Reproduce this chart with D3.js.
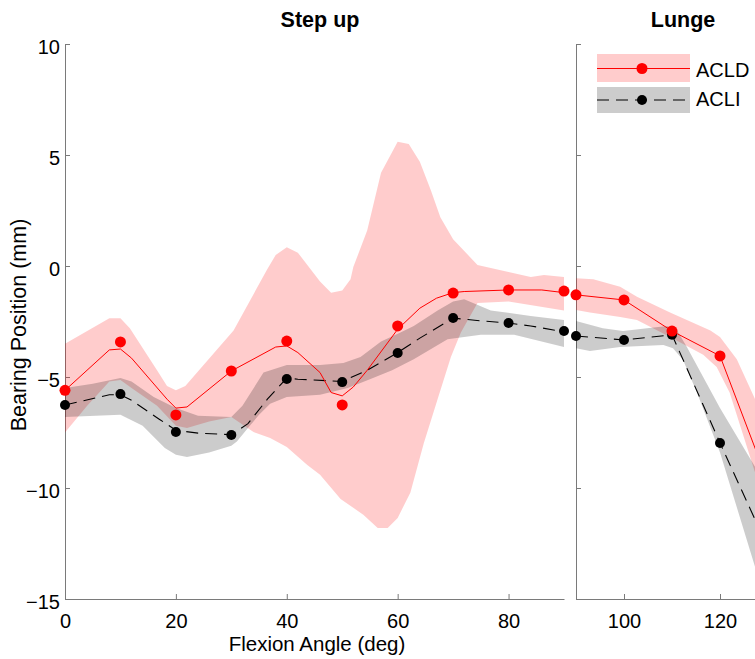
<!DOCTYPE html>
<html>
<head>
<meta charset="utf-8">
<script src="https://cdn.jsdelivr.net/npm/d3@7"></script>
<style>
  html, body { margin: 0; padding: 0; background: #fff; }
  svg { display: block; font-family: "Liberation Sans", Arial, Helvetica, sans-serif; }
</style>
</head>
<body>
<svg id="chart" width="755" height="659"></svg>
<script>
// ---------------- DATA ----------------
const panelTitles = ["Step up", "Lunge"];
const seriesNames = ["ACLD", "ACLI"];
const xLabel = "Flexion Angle (deg)";
const yLabel = "Bearing Position (mm)";
const yTicks = [-15, -10, -5, 0, 5, 10];
const stepXTicks = [0, 20, 40, 60, 80];
const lungeXTicks = [100, 120];

// Step up: measured points
const stepX = [0, 10, 20, 30, 40, 50, 60, 70, 80, 90];
const stepACLD = [-5.6, -3.42, -6.71, -4.73, -3.38, -6.26, -2.70, -1.22, -1.08, -1.13];
const stepACLI = [-6.26, -5.77, -7.48, -7.61, -5.09, -5.23, -3.92, -2.34, -2.57, -2.93];

// Step up: mean curves [angle, mm]
const stepACLDLine = [[0,-5.6],[8,-3.78],[10,-3.74],[12,-4.15],[18.4,-6.0],[20,-6.4],[22,-6.35],[30,-4.73],[38,-3.65],[40,-3.6],[42,-3.9],[46,-4.8],[48,-5.7],[50,-5.85],[52,-5.45],[54.5,-4.7],[60,-2.85],[64,-1.9],[67,-1.45],[70,-1.2],[72,-1.15],[80,-1.08],[86,-1.08],[90,-1.2]];
const stepACLILine = [[0,-6.26],[8,-5.8],[10,-5.8],[12,-6.05],[17,-6.9],[20,-7.4],[24,-7.53],[30,-7.6],[33,-7.1],[36.5,-6.0],[40,-5.05],[42,-5.1],[50,-5.2],[54.5,-4.7],[60,-3.9],[64,-3.25],[70,-2.35],[75,-2.47],[80,-2.57],[84,-2.7],[90,-2.97]];

// Step up: bands (upper / lower edges)
const stepACLDUpper = [[0,-3.5],[8,-2.35],[10,-2.35],[11.7,-2.8],[16.6,-4.7],[18.4,-5.4],[20,-5.6],[21.7,-5.4],[30.4,-2.9],[36.4,-0.18],[38,0.5],[40,0.85],[42,0.6],[46,-0.7],[48,-1.2],[50,-1.1],[51.5,-0.6],[52,-0.05],[54.5,1.6],[57,4.2],[60,5.6],[62,5.5],[64,4.7],[66,3.4],[67.7,2.2],[70,1.2],[74.4,0.05],[80,-0.27],[84,-0.5],[86.4,-0.4],[90,-0.5]];
const stepACLDLower = [[0,-7.5],[4,-6.3],[8,-5.2],[10,-5.13],[12,-5.5],[16.6,-6.3],[20,-7.2],[22,-7.3],[26,-7.0],[30,-6.8],[34,-7.48],[37,-7.75],[40,-8.15],[43.7,-8.96],[46,-9.4],[49.7,-10.5],[53.8,-11.2],[56.4,-11.8],[58.2,-11.8],[60,-11.35],[62.3,-10.2],[64.7,-8.0],[67.2,-6.0],[69.6,-4.1],[71.4,-3.0],[73.2,-2.2],[74.4,-1.67],[80,-1.6],[90,-2.0]];
const stepACLIUpper = [[0,-5.5],[5,-5.3],[10,-5.05],[12,-5.2],[16,-5.9],[20,-6.4],[24,-6.75],[30,-6.8],[32,-6.3],[35.8,-4.8],[40,-4.46],[46,-4.46],[50.2,-4.37],[53.3,-4.1],[57,-3.4],[60.5,-3.0],[62.9,-2.7],[67.2,-2.0],[70,-1.6],[72,-1.5],[76.8,-2.0],[84,-2.25],[90,-2.43]];
const stepACLILower = [[0,-6.8],[10,-6.7],[14,-7.2],[18,-8.2],[20,-8.5],[22,-8.6],[26,-8.4],[30,-8.1],[31,-7.9],[33,-7.3],[35,-6.7],[37,-6.2],[40,-5.9],[46,-5.8],[51,-5.5],[55,-5.1],[59,-4.7],[62.9,-4.2],[69,-3.3],[75,-3.1],[81,-3.1],[90,-3.65]];

// Lunge: measured points
const lungeX = [90, 100, 110, 120];
const lungeACLD = [-1.3, -1.53, -2.93, -4.05];
const lungeACLI = [-3.15, -3.33, -3.1, -7.97];

// Lunge: mean curves
const lungeACLDLine = [[90,-1.3],[100,-1.53],[110,-2.93],[120,-4.05],[128,-8.6]];
const lungeACLILine = [[90,-3.15],[100,-3.33],[110,-3.1],[120,-7.97],[128,-11.75]];

// Lunge: bands
const lungeACLDUpper = [[90,-0.55],[93.6,-0.6],[99.2,-0.93],[102.7,-1.38],[109.6,-2.1],[118,-2.9],[120,-3.2],[123.5,-4.2],[127.3,-6.0],[128,-6.35]];
const lungeACLDLower = [[90,-1.98],[92.9,-2.1],[99.2,-2.3],[102.7,-2.43],[109.6,-3.2],[116.5,-4.0],[119.3,-4.55],[122,-5.7],[127.3,-9.3],[128,-9.65]];
const lungeACLIUpper = [[90,-2.48],[95.6,-2.8],[99.8,-2.93],[104.8,-2.8],[109,-2.7],[111,-2.88],[113.1,-3.65],[120,-6.4],[127.3,-9.05],[128,-9.3]];
const lungeACLILower = [[90,-3.7],[92.9,-3.83],[99.2,-3.65],[108.2,-3.56],[110.2,-3.7],[112.3,-4.23],[115.2,-5.7],[120,-8.4],[127.3,-13.55],[128,-13.9]];

// ---------------- DRAW ----------------
const svg = d3.select("#chart");
const FONT = 20;
const axisColor = "#7a7a7a";
const pink = "#ffcccc";
const red = "#ff0000";
const DASH = "12,7";

const y = d3.scaleLinear().domain([-15, 10]).range([599, 44]);
const xL = d3.scaleLinear().domain([0, 90]).range([65, 564]);
const xR = d3.scaleLinear().domain([90, 135]).range([576, 792]);

function band(g, x, upper, lower, fill, opacity) {
  const line = d3.line().x(d => x(d[0])).y(d => y(d[1]));
  const pts = upper.concat(lower.slice().reverse());
  g.append("path").attr("d", line(pts) + "Z")
    .attr("fill", fill).attr("fill-opacity", opacity).attr("stroke", "none");
}
function meanLine(g, x, pts, color, dash, w) {
  const line = d3.line().x(d => x(d[0])).y(d => y(d[1]));
  g.append("path").attr("d", line(pts)).attr("fill", "none")
    .attr("stroke", color).attr("stroke-width", w)
    .attr("stroke-dasharray", dash || null);
}
function markers(g, x, xs, vs, color, r) {
  g.selectAll(null).data(xs.map((v, i) => [v, vs[i]])).enter().append("circle")
    .attr("cx", d => x(d[0])).attr("cy", d => y(d[1])).attr("r", r).attr("fill", color);
}

function drawPanel(x, data) {
  const g = svg.append("g");
  band(g, x, data.dU, data.dL, "#ff0000", 0.2);
  band(g, x, data.iU, data.iL, "#000000", 0.2);
  meanLine(g, x, data.iLine, "#000", DASH, 1.1);
  meanLine(g, x, data.dLine, red, null, 1);
  return g;
}

// Axes
function styleAxis(sel) {
  sel.select(".domain").attr("stroke", axisColor).attr("stroke-width", 1);
  sel.selectAll(".tick line").attr("stroke", axisColor);
  sel.selectAll("text").attr("fill", "#000").style("font-size", FONT + "px")
    .style("font-family", "'Liberation Sans', Arial, sans-serif");
}

// Left panel axes
const gyL = svg.append("g").attr("transform", "translate(65,0)")
  .call(d3.axisLeft(y).tickValues(yTicks).tickSizeInner(-5).tickSizeOuter(0).tickPadding(5));
styleAxis(gyL);
gyL.selectAll("text").attr("dy", "0.47em");

const gxL = svg.append("g").attr("transform", "translate(0,599)")
  .call(d3.axisBottom(xL).tickValues(stepXTicks).tickSizeInner(-5).tickSizeOuter(0));
styleAxis(gxL);
gxL.selectAll("text").attr("y", 29).attr("dy", 0);

// Right panel axes
const gyR = svg.append("g").attr("transform", "translate(576,0)")
  .call(d3.axisLeft(y).tickValues(yTicks).tickSizeInner(-5).tickSizeOuter(0).tickFormat(""));
styleAxis(gyR);

const gxR = svg.append("g").attr("transform", "translate(0,599)")
  .call(d3.axisBottom(xR).tickValues(lungeXTicks).tickSizeInner(-5).tickSizeOuter(0));
styleAxis(gxR);
gxR.selectAll("text").attr("y", 29).attr("dy", 0);

// Panels
const gL = drawPanel(xL, {dU: stepACLDUpper, dL: stepACLDLower, iU: stepACLIUpper, iL: stepACLILower,
  dLine: stepACLDLine, iLine: stepACLILine});
markers(gL, xL, stepX, stepACLI, "#000", 5);
markers(gL, xL, stepX, stepACLD, red, 5.5);

const gR = drawPanel(xR, {dU: lungeACLDUpper, dL: lungeACLDLower, iU: lungeACLIUpper, iL: lungeACLILower,
  dLine: lungeACLDLine, iLine: lungeACLILine});
markers(gR, xR, lungeX, lungeACLI, "#000", 5);
markers(gR, xR, lungeX, lungeACLD, red, 5.5);

// Titles
svg.append("text").attr("x", 320).attr("y", 27).attr("text-anchor", "middle")
  .attr("font-weight", "bold").attr("font-size", 21.5).text(panelTitles[0]);
svg.append("text").attr("x", 683).attr("y", 27).attr("text-anchor", "middle")
  .attr("font-weight", "bold").attr("font-size", 21.5).text(panelTitles[1]);

// Axis labels
svg.append("text").attr("x", 317).attr("y", 651).attr("text-anchor", "middle")
  .attr("font-size", 20.5).text(xLabel);
svg.append("text").attr("transform", "translate(26,325) rotate(-90)").attr("text-anchor", "middle")
  .attr("font-size", 21.5).text(yLabel);

// Legend
const lg = svg.append("g");
const legendRows = [
  {name: seriesNames[0], fill: pink, color: red, dash: null, r: 5.5, y0: 54, h: 28, cy: 68.5, ty: 77},
  {name: seriesNames[1], fill: "#cccccc", color: "#000", dash: DASH, r: 5, y0: 87, h: 26, cy: 100, ty: 106}
];
legendRows.forEach(row => {
  lg.append("rect").attr("x", 597).attr("y", row.y0).attr("width", 93).attr("height", row.h).attr("fill", row.fill);
  lg.append("line").attr("x1", 597).attr("x2", 690).attr("y1", row.cy).attr("y2", row.cy)
    .attr("stroke", row.color).attr("stroke-width", 1.1).attr("stroke-dasharray", row.dash);
  lg.append("circle").attr("cx", 642).attr("cy", row.cy).attr("r", row.r).attr("fill", row.color);
  lg.append("text").attr("x", 696).attr("y", row.ty).attr("font-size", 20).text(row.name);
});
</script>
</body>
</html>
